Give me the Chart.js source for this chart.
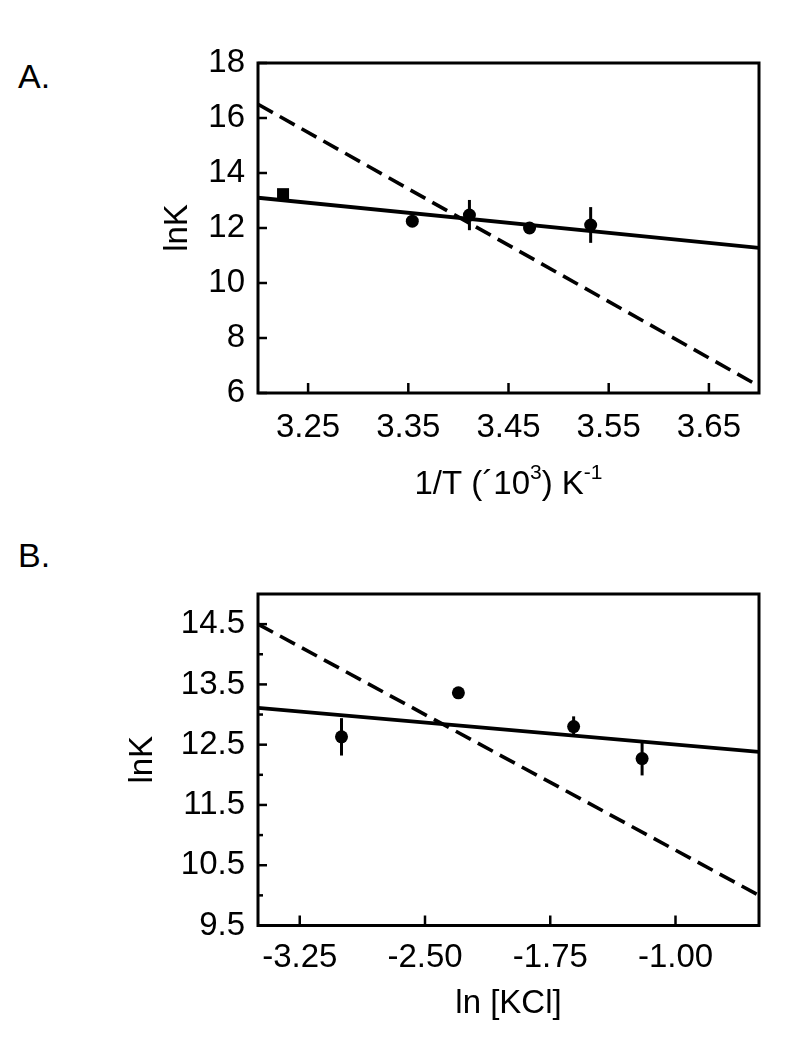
<!DOCTYPE html>
<html><head><meta charset="utf-8">
<script src="https://cdn.jsdelivr.net/npm/chart.js@4.4.1/dist/chart.umd.min.js"></script>
<style>
html,body{margin:0;padding:0;background:#fff;}
#wrap{position:relative;width:789px;height:1050px;overflow:hidden;font-family:'Liberation Sans',Arial,sans-serif;}
.panel{position:absolute;left:18px;font-size:34px;line-height:34px;color:#000;}
.box{position:absolute;left:0;width:789px;}
</style></head>
<body><div id="wrap">
<div class="panel" style="top:59px">A.</div>
<div class="panel" style="top:538px">B.</div>
<div class="box" style="top:0;height:520px"><canvas id="cA"></canvas></div>
<div class="box" style="top:520px;height:530px"><canvas id="cB"></canvas></div>
</div>
<script>
// ---- Panel A data: lnK vs 1/T ----
const tempX = [3.225, 3.354, 3.411, 3.471, 3.532];
const tempLnK = [13.23, 12.25, 12.47, 12.0, 12.11];
const tempErr = [0.08, 0.1, 0.55, 0.1, 0.65];
const tempFitX = [3.2, 3.7];
const tempFitSolid = [13.1, 11.28];
const tempFitDashed = [16.5, 6.25];
const tempXTicks = [3.25, 3.35, 3.45, 3.55, 3.65];
const tempYTicks = [6, 8, 10, 12, 14, 16, 18];

// ---- Panel B data: lnK vs ln[KCl] ----
const kclX = [-3.0, -2.3, -1.61, -1.2];
const kclLnK = [12.63, 13.36, 12.8, 12.27];
const kclErr = [0.31, 0.04, 0.17, 0.28];
const kclFitX = [-3.5, -0.5];
const kclFitSolid = [13.11, 12.38];
const kclFitDashed = [14.5, 10.0];
const kclXTicks = [-3.25, -2.5, -1.75, -1.0];
const kclYTicks = [9.5, 10.5, 11.5, 12.5, 13.5, 14.5];
const kclYMinor = [10, 11, 12, 13, 14];

const FONT = "'Liberation Sans', Arial, sans-serif";
const FS = 33;

function pts(xs, ys){ return xs.map((x,i)=>({x:x, y:ys[i]})); }

function decorPlugin(o){
  return {
    id:'decor',
    afterDatasetsDraw(chart){
      const {ctx, chartArea:a, scales:{x, y}} = chart;
      ctx.save();
      ctx.strokeStyle = '#000';
      // error bars
      ctx.lineWidth = 3;
      o.ex.forEach((xv,i)=>{
        const px = x.getPixelForValue(xv);
        const y1 = y.getPixelForValue(o.ey[i] + o.err[i]);
        const y2 = y.getPixelForValue(o.ey[i] - o.err[i]);
        ctx.beginPath(); ctx.moveTo(px,y1); ctx.lineTo(px,y2); ctx.stroke();
      });
      // inward ticks
      ctx.lineWidth = 2.5;
      o.xTicks.forEach(v=>{
        const px = x.getPixelForValue(v);
        ctx.beginPath(); ctx.moveTo(px, a.bottom); ctx.lineTo(px, a.bottom - 10); ctx.stroke();
      });
      o.yTicks.forEach(v=>{
        const py = y.getPixelForValue(v);
        ctx.beginPath(); ctx.moveTo(a.left, py); ctx.lineTo(a.left + 9, py); ctx.stroke();
      });
      (o.yMinor||[]).forEach(v=>{
        const py = y.getPixelForValue(v);
        ctx.beginPath(); ctx.moveTo(a.left, py); ctx.lineTo(a.left + 5, py); ctx.stroke();
      });
      // frame
      ctx.lineWidth = 3;
      ctx.strokeRect(a.left, a.top, a.right - a.left, a.bottom - a.top);
      // x title with superscripts (panel A)
      if (o.xTitleParts){
        const parts = o.xTitleParts;
        const main = FS + 'px ' + FONT, sup = '21px ' + FONT;
        let w = 0;
        parts.forEach(p=>{ ctx.font = p.s ? sup : main; w += ctx.measureText(p.t).width; });
        let cx = (a.left + a.right)/2 - w/2;
        const cy = a.bottom + o.xTitleOffset;
        ctx.fillStyle = '#000'; ctx.textBaseline = 'middle'; ctx.textAlign = 'left';
        parts.forEach(p=>{
          ctx.font = p.s ? sup : main;
          ctx.fillText(p.t, cx, p.s ? cy - 12 : cy);
          cx += ctx.measureText(p.t).width;
        });
      }
      ctx.restore();
    }
  };
}

function makeChart(id, cfg){
  const yTickList = cfg.yTicks.concat(cfg.yMinor || []).sort((a,b)=>a-b);
  return new Chart(document.getElementById(id), {
    type:'scatter',
    data:{ datasets:[
      { type:'line', data: pts(cfg.fitX, cfg.fitSolid), borderColor:'#000', borderWidth:3.8, pointRadius:0, fill:false, tension:0 },
      { type:'line', data: pts(cfg.fitX, cfg.fitDashed), borderColor:'#000', borderWidth:3.6, borderDash:[17,8], pointRadius:0, fill:false, tension:0 },
      { data: pts(cfg.x, cfg.y), backgroundColor:'#000', borderColor:'#000', borderWidth:0,
        pointRadius: cfg.pointRadius, pointStyle: cfg.pointStyle }
    ]},
    options:{
      responsive:true, maintainAspectRatio:false, animation:false,
      layout:{ padding:{ left:0, right:30, top:cfg.padTop, bottom:0 } },
      plugins:{ legend:{display:false}, tooltip:{enabled:false} },
      scales:{
        x:{ type:'linear', min:cfg.xMin, max:cfg.xMax,
            afterBuildTicks(s){ s.ticks = cfg.xTicks.map(v=>({value:v})); },
            afterFit(s){ s.height = cfg.xAxisH; },
            grid:{ display:false, drawTicks:false }, border:{ display:false },
            ticks:{ padding: cfg.xTickPad, color:'#000', font:{ family:FONT, size:FS, lineHeight:1.2 }, maxRotation:0, autoSkip:false,
                    callback:(v)=>Number(v).toFixed(2) },
            title:{ display: !!cfg.xTitle, text: cfg.xTitle || '', color:'#000', font:{ family:FONT, size:FS, lineHeight:1.2 },
                    padding:{ top:0, bottom: cfg.xTitlePad || 0 } }
        },
        y:{ type:'linear', min:cfg.yMin, max:cfg.yMax,
            afterBuildTicks(s){ s.ticks = yTickList.map(v=>({value:v})); },
            afterFit(s){ s.width = 258; },
            grid:{ display:false, drawTicks:false }, border:{ display:false },
            ticks:{ padding:13, color:'#000', font:{ family:FONT, size:FS, lineHeight:1.2 }, autoSkip:false,
                    callback:(v)=> cfg.yTicks.includes(v) ? cfg.yFmt(v) : '' },
            title:{ display:true, text:'lnK', color:'#000', font:{ family:FONT, size:FS, lineHeight:1.2 },
                    padding:{ top: cfg.yTitlePad, bottom:0 } }
        }
      }
    },
    plugins:[ decorPlugin({ ex:cfg.x, ey:cfg.y, err:cfg.err, xTicks:cfg.xTicks, yTicks:cfg.yTicks, yMinor:cfg.yMinor,
                            xTitleParts: cfg.xTitleParts, xTitleOffset: cfg.xTitleOffset }) ]
  });
}

makeChart('cA', {
  x: tempX, y: tempLnK, err: tempErr, fitX: tempFitX, fitSolid: tempFitSolid, fitDashed: tempFitDashed,
  xMin:3.2, xMax:3.7, yMin:6, yMax:18, xTicks: tempXTicks, yTicks: tempYTicks, yMinor: [],
  yFmt: v=>String(v), padTop:63, xAxisH:127, xTickPad:15, yTitlePad:158,
  pointRadius:[8.5,6.5,6.5,6.5,6.5], pointStyle:['rect','circle','circle','circle','circle'],
  xTitleParts:[{t:'1/T (\u00B410',s:false},{t:'3',s:true},{t:') K',s:false},{t:'-1',s:true}], xTitleOffset:92
});

makeChart('cB', {
  x: kclX, y: kclLnK, err: kclErr, fitX: kclFitX, fitSolid: kclFitSolid, fitDashed: kclFitDashed,
  xMin:-3.5, xMax:-0.5, yMin:9.5, yMax:15, xTicks: kclXTicks, yTicks: kclYTicks, yMinor: kclYMinor,
  yFmt: v=>v.toFixed(1), padTop:74, xAxisH:124.5, xTickPad:13, yTitlePad:123,
  xTitle:'ln [KCl]', xTitlePad:26,
  pointRadius:6.5, pointStyle:'circle'
});
</script>
</body></html>
